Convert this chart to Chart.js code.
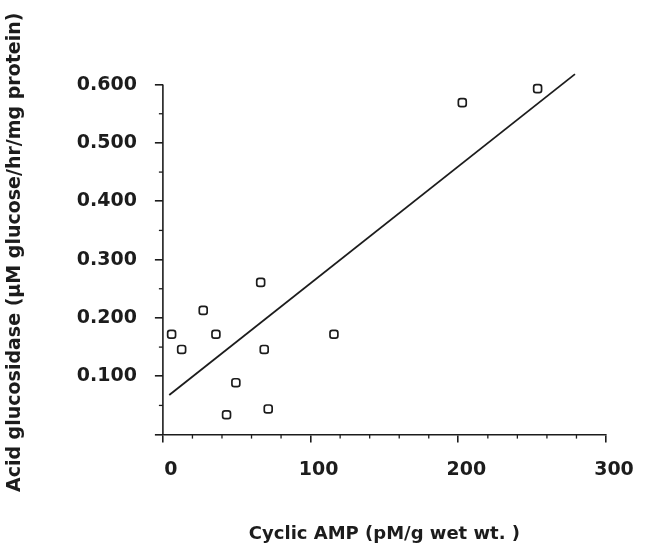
<!DOCTYPE html>
<html><head><meta charset="utf-8">
<script src="https://cdn.jsdelivr.net/npm/chart.js@4/dist/chart.umd.min.js"></script>
<style>html,body{margin:0;padding:0;background:#fff}#wrap{width:645px;height:545px;position:relative}</style>
</head><body><div id="wrap"><canvas id="c" width="645" height="545"></canvas></div>
<script>
const cyclicAMP = [5.9, 12.7, 27.3, 35.9, 49.4, 43.1, 68.6, 71.3, 66.2, 115.8, 202.7, 253.7];
const acidGlucosidase = [0.172, 0.146, 0.213, 0.172, 0.089, 0.034, 0.146, 0.044, 0.261, 0.172, 0.569, 0.593];
const fitX = [4.3, 279];
const fitY = [0.068, 0.618];
const xTicks = [0, 100, 200, 300];
const yTicks = [0, 0.1, 0.2, 0.3, 0.4, 0.5, 0.6];
const xMinorTicks = [20, 40, 60, 80, 120, 140, 160, 180, 220, 240, 260, 280];
const yMinorTicks = [0.05, 0.15, 0.25, 0.35, 0.45, 0.55];
const xTitle = 'Cyclic AMP (pM/g wet wt. )';
const yTitle = 'Acid glucosidase (µM glucose/hr/mg protein)';

const INK = '#1c1c1c';
const pts = cyclicAMP.map((x, i) => ({x: x, y: acidGlucosidase[i]}));
const fitPts = fitX.map((x, i) => ({x: x, y: fitY[i]}));

const axisPlugin = {
  id: 'axisExtras',
  afterDraw(chart) {
    const ctx = chart.ctx, xs = chart.scales.x, ys = chart.scales.y;
    ctx.save();
    ctx.strokeStyle = INK;
    ctx.lineWidth = 1.6;
    const x0 = xs.getPixelForValue(0), y0 = ys.getPixelForValue(0);
    ctx.beginPath();
    ctx.moveTo(x0, y0);
    ctx.lineTo(x0, ys.getPixelForValue(yTicks[yTicks.length - 1]));
    ctx.stroke();
    ctx.lineWidth = 1.3;
    xMinorTicks.forEach(v => {
      const px = xs.getPixelForValue(v);
      ctx.beginPath(); ctx.moveTo(px, y0); ctx.lineTo(px, y0 + 4); ctx.stroke();
    });
    yMinorTicks.forEach(v => {
      const py = ys.getPixelForValue(v);
      ctx.beginPath(); ctx.moveTo(x0 - 4, py); ctx.lineTo(x0, py); ctx.stroke();
    });
    ctx.restore();
  }
};

new Chart(document.getElementById('c'), {
  type: 'scatter',
  data: {
    datasets: [
      {
        type: 'line',
        data: fitPts,
        borderColor: INK,
        borderWidth: 1.8,
        pointRadius: 0,
        fill: false,
        tension: 0
      },
      {
        data: pts,
        pointStyle: 'rectRounded',
        pointRadius: 4.6,
        borderWidth: 1.7,
        borderColor: INK,
        backgroundColor: '#ffffff'
      },
      {
        data: pts,
        pointStyle: 'circle',
        pointRadius: 0.9,
        borderWidth: 0,
        backgroundColor: '#555'
      }
    ]
  },
  options: {
    responsive: false,
    animation: false,
    devicePixelRatio: 1,
    layout: {padding: {left: 1, right: 39, top: 70, bottom: 0}},
    plugins: {legend: {display: false}, tooltip: {enabled: false}},
    scales: {
      x: {
        type: 'linear', min: 0, max: 300,
        afterBuildTicks: s => { s.ticks = xTicks.map(v => ({value: v})); },
        grid: {drawOnChartArea: false, drawTicks: true, tickLength: 8, color: INK, lineWidth: 1.6},
        border: {display: true, color: INK, width: 1.6},
        ticks: {
          color: INK, padding: 16, labelOffset: 8, maxRotation: 0,
          font: {family: 'DejaVu Sans', weight: 'bold', size: 19},
          callback: v => String(v)
        },
        title: {
          display: true, text: xTitle, color: INK,
          font: {family: 'DejaVu Sans', weight: 'bold', size: 18},
          padding: {top: 26, bottom: 0}
        }
      },
      y: {
        type: 'linear', min: 0, max: 0.625,
        afterBuildTicks: s => { s.ticks = yTicks.map(v => ({value: v})); },
        grid: {drawOnChartArea: false, drawTicks: true, tickLength: 8, color: INK, lineWidth: 1.6},
        border: {display: false},
        ticks: {
          color: INK, padding: 18,
          font: {family: 'DejaVu Sans', weight: 'bold', size: 19},
          callback: v => (v === 0 ? '' : Number(v).toFixed(3))
        },
        title: {
          display: true, text: yTitle, color: INK,
          font: {family: 'DejaVu Sans', weight: 'bold', size: 19},
          padding: {top: 3, bottom: 32}
        }
      }
    }
  },
  plugins: [axisPlugin]
});
</script></body></html>
